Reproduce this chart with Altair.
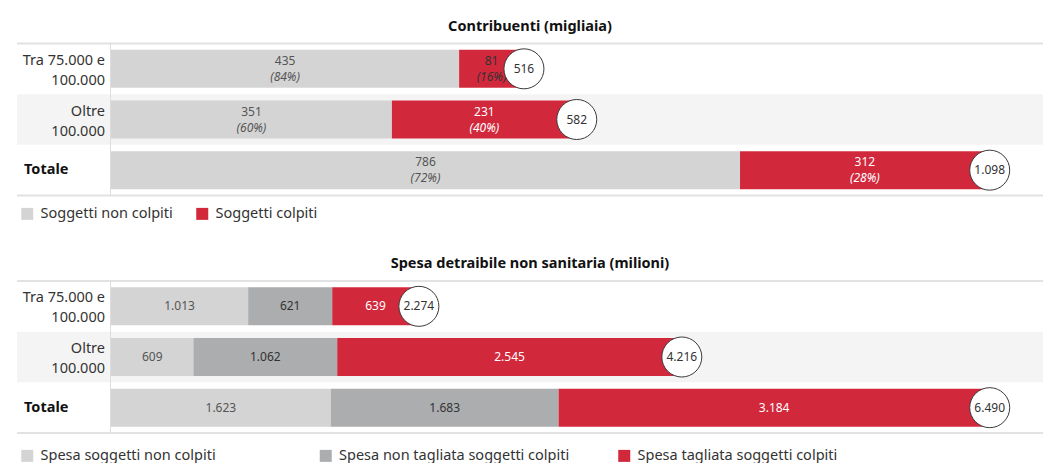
import altair as alt
import pandas as pd

FONT = "Noto Sans"

# ---------------- data ----------------
rows = ["Tra 75.000 e\n100.000", "Oltre\n100.000", "Totale"]

top_title = "Contribuenti (migliaia)"
top_series = ["Soggetti non colpiti", "Soggetti colpiti"]
top_non_colpiti = [435, 351, 786]
top_colpiti = [81, 231, 312]
top_pct_non_colpiti = [84, 60, 72]
top_pct_colpiti = [16, 40, 28]
top_totals = [516, 582, 1098]

bot_title = "Spesa detraibile non sanitaria (milioni)"
bot_series = ["Spesa soggetti non colpiti", "Spesa non tagliata soggetti colpiti",
              "Spesa tagliata soggetti colpiti"]
bot_non_colpiti = [1013, 609, 1623]
bot_non_tagliata = [621, 1062, 1683]
bot_tagliata = [639, 2545, 3184]
bot_totals = [2274, 4216, 6490]

top_colors = ["#d4d4d4", "#d2283c"]
bot_colors = ["#d4d4d4", "#abadae", "#d2283c"]


def fmt(v):
    return f"{v:,}".replace(",", ".")


def seg_frame(series, values, pcts=None):
    recs = []
    for i, r in enumerate(rows):
        for k, s in enumerate(series):
            v = values[k][i]
            recs.append({
                "row": r, "series": s, "order": k, "value": v,
                "label": fmt(v),
                "pct": f"({pcts[k][i]}%)" if pcts else "",
                "last": k == len(series) - 1,
            })
    return pd.DataFrame(recs)


def tot_frame(totals):
    return pd.DataFrame({"row": rows, "total": totals, "label": [fmt(t) for t in totals]})


top_df = seg_frame(top_series, [top_non_colpiti, top_colpiti],
                   [top_pct_non_colpiti, top_pct_colpiti])
bot_df = seg_frame(bot_series, [bot_non_colpiti, bot_non_tagliata, bot_tagliata])

W = 932
H = 152
LEFT = -94


def panel(df, tots, series, colors, xmax, title, two_line, legend_cp, legend_y):
    ysc = alt.Scale(domain=rows, paddingInner=0.25, paddingOuter=0.125)
    xsc = alt.Scale(domain=[0, xmax], nice=False, zero=True)
    Y = alt.Y("row:N", scale=ysc, axis=None, sort=rows)

    one = pd.DataFrame({"k": [0]})
    bg = alt.Chart(pd.DataFrame({"row": [rows[1]]})).mark_rect(
        color="#f4f4f4", height=alt.RelativeBandSize(band=4 / 3)
    ).encode(y=Y, x=alt.value(LEFT), x2=alt.value(W))

    rule_top = alt.Chart(one).mark_rule(color="#e2e2e2", strokeWidth=2).encode(
        x=alt.value(LEFT), x2=alt.value(W), y=alt.value(0))
    rule_bot = alt.Chart(one).mark_rule(color="#e2e2e2", strokeWidth=2).encode(
        x=alt.value(LEFT), x2=alt.value(W), y=alt.value(H))
    rule_v = alt.Chart(one).mark_rule(color="#dddddd", strokeWidth=1).encode(
        x=alt.value(-0.5), y=alt.value(0), y2=alt.value(H))

    stacked = alt.Chart(df).transform_stack(
        stack="value", groupby=["row"], as_=["x0", "x1"],
        sort=[alt.SortField("order", "ascending")]
    ).transform_calculate(
        xm="(datum.x0 + datum.x1) / 2",
        tc="datum.last && datum.value >= 100 ? '#ffffff' : (datum.order == 0 ? '#555555' : '#333333')"
    )

    bars = stacked.mark_bar().encode(
        y=Y,
        x=alt.X("x0:Q", scale=xsc, axis=None),
        x2="x1:Q",
        color=alt.Color(
            "series:N",
            scale=alt.Scale(domain=series, range=colors),
            legend=alt.Legend(
                orient="none", legendX=-91, legendY=legend_y, direction="horizontal",
                columns=len(series), title=None, symbolType="square", symbolSize=144,
                symbolStrokeWidth=0, labelFontSize=14.5, labelFont=FONT, labelColor="#333333",
                labelOffset=6, columnPadding=legend_cp, gridAlign="all", padding=0,
                labelLimit=400,
            ),
        ),
    )

    layers = [bg, rule_top, rule_bot, rule_v, bars]
    if two_line:
        t1 = stacked.mark_text(fontSize=12, font=FONT, dy=-8, baseline="middle").encode(
            y=Y, x=alt.X("xm:Q", scale=xsc), text="label:N",
            color=alt.Color("tc:N", scale=None))
        t2 = stacked.mark_text(fontSize=12, font=FONT, dy=8, baseline="middle",
                               fontStyle="italic").encode(
            y=Y, x=alt.X("xm:Q", scale=xsc), text="pct:N",
            color=alt.Color("tc:N", scale=None))
        layers += [t1, t2]
    else:
        t1 = stacked.mark_text(fontSize=12, font=FONT, baseline="middle").encode(
            y=Y, x=alt.X("xm:Q", scale=xsc), text="label:N",
            color=alt.Color("tc:N", scale=None))
        layers += [t1]

    circ = alt.Chart(tots).mark_point(
        shape="circle", filled=True, fill="#ffffff", stroke="#3a3a3a",
        strokeWidth=1, size=1600, opacity=1
    ).encode(y=Y, x=alt.X("total:Q", scale=xsc))
    circ_t = alt.Chart(tots).mark_text(fontSize=12, font=FONT, color="#333333",
                                       baseline="middle").encode(
        y=Y, x=alt.X("total:Q", scale=xsc), text="label:N")

    lab = alt.Chart(pd.DataFrame({"row": rows[:2]})).mark_text(
        align="right", baseline="middle", lineBreak="\n", lineHeight=20, dy=-8,
        fontSize=14.5, font=FONT, color="#333333"
    ).encode(y=Y, x=alt.value(-6), text="row:N")
    lab_tot = alt.Chart(pd.DataFrame({"row": rows[2:]})).mark_text(
        align="left", baseline="middle", fontSize=14.5, font=FONT,
        fontWeight="bold", color="#111111"
    ).encode(y=Y, x=alt.value(-87), text="row:N")

    layers += [circ, circ_t, lab, lab_tot]
    return alt.layer(*layers).properties(
        width=W, height=H,
        title=alt.TitleParams(title, anchor="middle", frame="bounds", fontSize=14.5,
                              font=FONT, fontWeight="bold", color="#111111", offset=8.5),
    ).resolve_scale(color="independent")


top = panel(top_df, tot_frame(top_totals), top_series, top_colors,
            1098 * W / 878.7, top_title, True, 22, 163)
bot = panel(bot_df, tot_frame(bot_totals), bot_series, bot_colors,
            6490 * W / 878.7, bot_title, False, 47.5, 167.5)

chart = alt.vconcat(top, bot, spacing=35.5).resolve_scale(
    color="independent", x="independent", y="independent"
).resolve_legend(color="independent").properties(
    padding={"left": 8, "top": 10.5, "right": 0, "bottom": 0}
).configure_view(stroke=None)

chart.save("out.html", embed_options={"renderer": "svg", "actions": False})
